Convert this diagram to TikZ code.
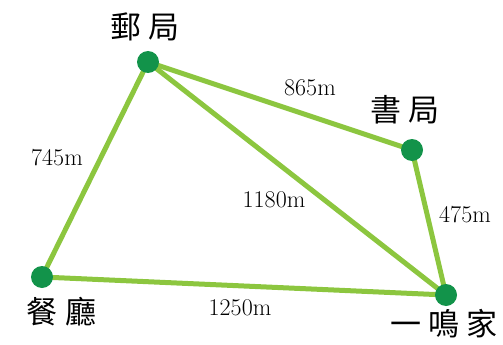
\documentclass[tikz,border=0pt]{standalone}
\usepackage{fontspec}
\newfontfamily\cjk{Noto Sans CJK TC}
\definecolor{roadgreen}{HTML}{8CC63F}
\definecolor{dotgreen}{HTML}{12934A}
\tikzset{
	place/.style={circle, fill=dotgreen, inner sep=0pt, minimum size=22pt},
	road/.style={roadgreen, line width=5pt},
	placename/.style={font=\cjk\fontsize{31}{31}\selectfont},
	dist/.style={font=\fontsize{24}{24}\selectfont},
}
\begin{document}
\begin{tikzpicture}[x=1pt, y=-1pt]
	\useasboundingbox (0,0) rectangle (503,345);
	% places
	\coordinate (post) at (148,62);
	\coordinate (book) at (412,150);
	\coordinate (home) at (446,295);
	\coordinate (rest) at (42,277);
	% roads
	\draw [road] (post) -- (book);
	\draw [road] (post) -- (home);
	\draw [road] (post) -- (rest);
	\draw [road] (book) -- (home);
	\draw [road] (rest) -- (home);
	\foreach \p in {post,book,home,rest} {
		\node (d\p) [place] at (\p) {};
	}
	% names
	\node (npost) [placename] at (145,27) {郵\hspace{7pt}局};
	\node (nbook) [placename] at (405,110) {書\hspace{7pt}局};
	\node (nhome) [placename] at (444,324) {一\hspace{7pt}鳴\hspace{7pt}家};
	\node (nrest) [placename] at (62,312) {餐\hspace{8pt}廳};
	% distances
	\node (l865) [dist] at (310,88) {865m};
	\node (l745) [dist] at (57,158) {745m};
	\node (l1180) [dist] at (274,200) {1180m};
	\node (l475) [dist] at (465,215) {475m};
	\node (l1250) [dist] at (240,308) {1250m};
\end{tikzpicture}
\end{document}
